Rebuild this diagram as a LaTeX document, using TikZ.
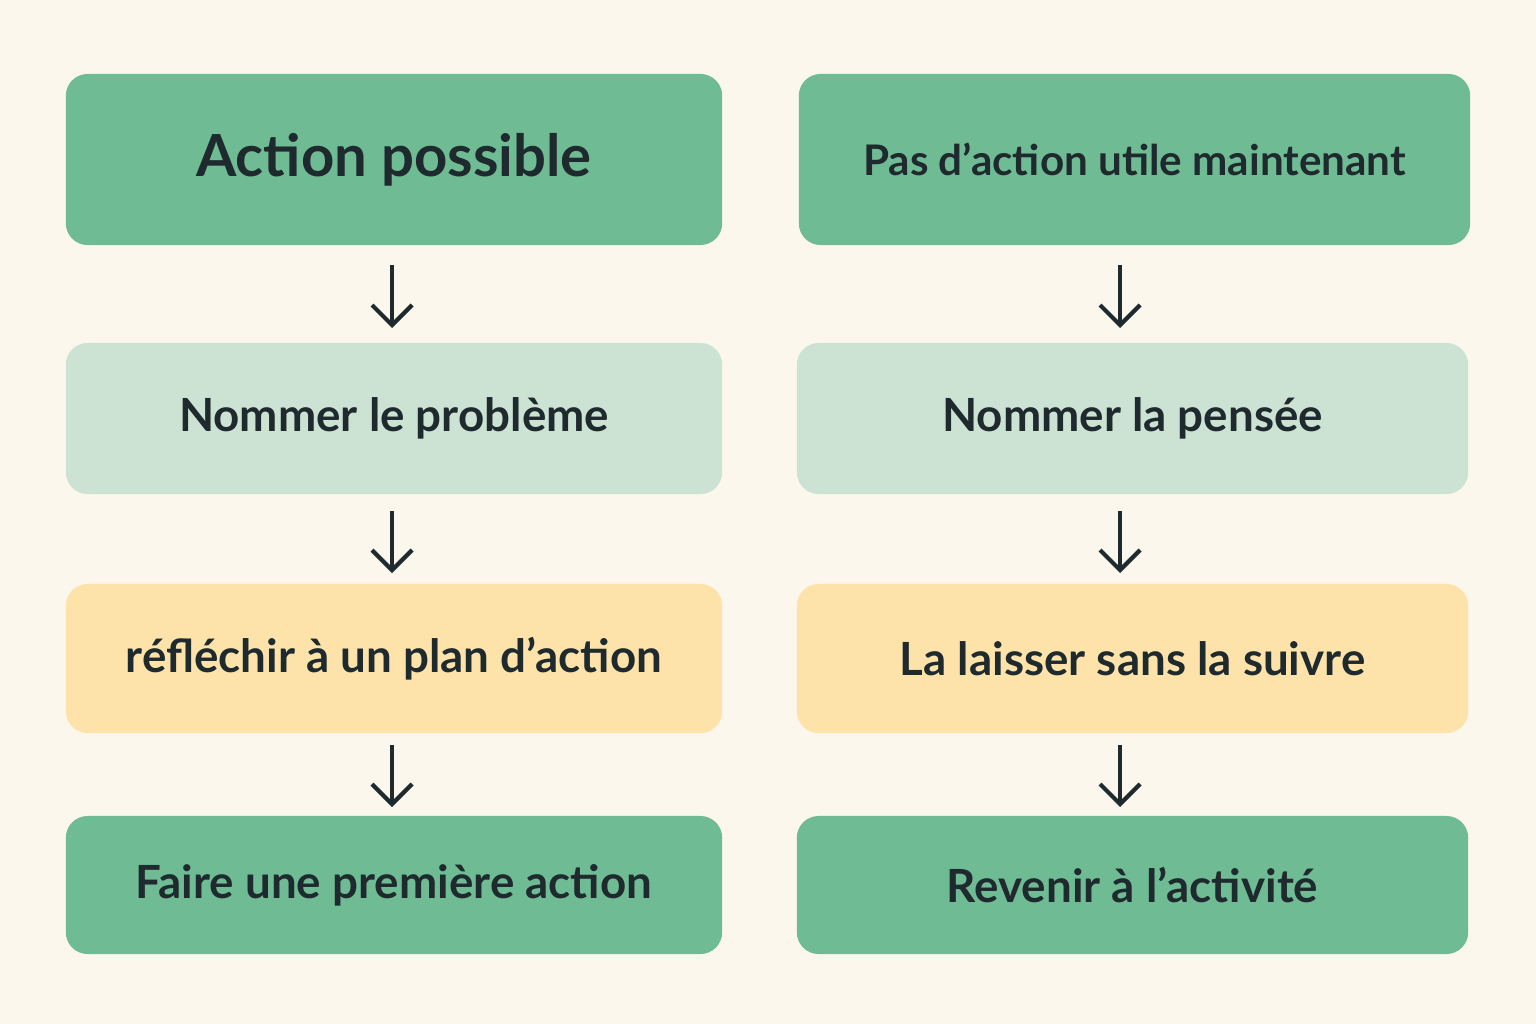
\documentclass[tikz,border=0pt]{standalone}
\usepackage{fontspec}
\setmainfont{Lato}
\usetikzlibrary{positioning,arrows.meta}
\definecolor{bg}{HTML}{FCF7EC}
\definecolor{darkgreen}{HTML}{6FBB93}
\definecolor{palegreen}{HTML}{CCE3D3}
\definecolor{paleyellow}{HTML}{FDE3AA}
\definecolor{ink}{HTML}{1F2A2E}

\begin{document}
\begin{tikzpicture}[x=0.01cm,y=-0.01cm]
   \fill[bg] (0,0) rectangle (1536,1024);
   \useasboundingbox (0,0) rectangle (1536,1024);
   \tikzstyle{box}=[rounded corners=6.2pt, minimum width=6.56cm, text=ink, font=\bfseries\fontsize{13}{15}\selectfont, inner sep=0pt]
   \tikzstyle{flow}=[-{Straight Barb[length=2mm,width=4mm]}, line width=1.2pt, draw=ink]
   % left column
   \node[box, fill=darkgreen, minimum height=1.71cm, font=\bfseries\fontsize{16.5}{18}\selectfont] (a1) at (394,159.5) {Action possible};
   \node[box, fill=palegreen, minimum height=1.51cm] (a2) at (394,418.5) {Nommer le problème};
   \node[box, fill=paleyellow, minimum height=1.49cm] (a3) at (394,658.5) {réfléchir à un plan d’action};
   \node[box, fill=darkgreen, minimum height=1.38cm] (a4) at (394,885) {Faire une première action};
   % right column
   \node[box, fill=darkgreen, minimum width=6.71cm, minimum height=1.71cm, font=\bfseries\fontsize{12}{14}\selectfont] (b1) at (1134.5,159.5) {Pas d'action utile maintenant};
   \node[box, fill=palegreen, minimum width=6.71cm, minimum height=1.51cm] (b2) at (1132.5,418.5) {Nommer la pensée};
   \node[box, fill=paleyellow, minimum width=6.71cm, minimum height=1.49cm] (b3) at (1132.5,658.5) {La laisser sans la suivre};
   \node[box, fill=darkgreen, minimum width=6.71cm, minimum height=1.38cm] (b4) at (1132.5,885) {Revenir à l’activité};
   \foreach \c/\x in {a/392,b/1120} {
       \coordinate (\c s1) at (\x,265); \coordinate (\c e1) at (\x,328);
       \coordinate (\c s2) at (\x,511); \coordinate (\c e2) at (\x,573);
       \coordinate (\c s3) at (\x,745); \coordinate (\c e3) at (\x,807);
       \foreach \i in {1,2,3} \draw[flow] (\c s\i) -- (\c e\i);
   }
\end{tikzpicture}
\end{document}
